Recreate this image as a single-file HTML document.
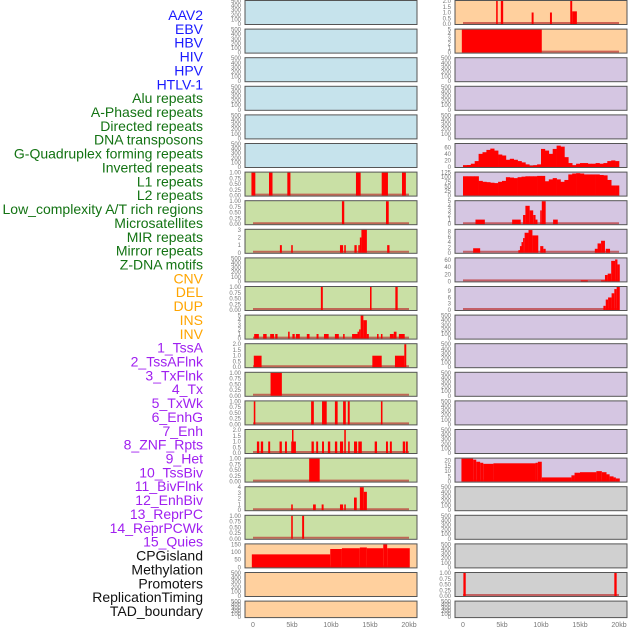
<!DOCTYPE html>
<html><head><meta charset="utf-8">
<style>
html,body{margin:0;padding:0;background:#fff;}
svg{display:block;font-family:"Liberation Sans",sans-serif;}
</style></head>
<body>
<svg id="chart" width="630" height="630" viewBox="0 0 630 630" xmlns="http://www.w3.org/2000/svg"></svg>
<script>
// ---- track labels ----
const trackLabels = ["AAV2","EBV","HBV","HIV","HPV","HTLV-1","Alu repeats","A-Phased repeats","Directed repeats","DNA transposons","G-Quadruplex forming repeats","Inverted repeats","L1 repeats","L2 repeats","Low_complexity A/T rich regions","Microsatellites","MIR repeats","Mirror repeats","Z-DNA motifs","CNV","DEL","DUP","INS","INV","1_TssA","2_TssAFlnk","3_TxFlnk","4_Tx","5_TxWk","6_EnhG","7_Enh","8_ZNF_Rpts","9_Het","10_TssBiv","11_BivFlnk","12_EnhBiv","13_ReprPC","14_ReprPCWk","15_Quies","CPGisland","Methylation","Promoters","ReplicationTiming","TAD_boundary"];
const labelColors = ["#1a1aff","#1a1aff","#1a1aff","#1a1aff","#1a1aff","#1a1aff","#137313","#137313","#137313","#137313","#137313","#137313","#137313","#137313","#137313","#137313","#137313","#137313","#137313","#ffa500","#ffa500","#ffa500","#ffa500","#ffa500","#a020f0","#a020f0","#a020f0","#a020f0","#a020f0","#a020f0","#a020f0","#a020f0","#a020f0","#a020f0","#a020f0","#a020f0","#a020f0","#a020f0","#a020f0","#111","#111","#111","#111","#111"];

// ---- x axis ----
const xTickValues = [0,5,10,15,20];
const xTickLabels = ["0","5kb","10kb","15kb","20kb"];

// ---- panel backgrounds per row (left col, right col) ----
const leftBg = ["blue","blue","blue","blue","blue","blue","green","green","green","green","green","green","green","green","green","green","green","green","green","orange","orange","orange"];
const rightBg = ["orange","orange","purple","purple","purple","purple","purple","purple","purple","purple","purple","purple","purple","purple","purple","purple","purple","gray","gray","gray","gray","gray"];

// ---- y axis maxima & ticks per row ----
const leftYMax = [500,500,500,500,500,500,1,1,3,500,1,5,2,1,1,2,1,4,1,150,500,500];
const rightYMax = [2,5,500,500,500,70,125,5,8.6,65,11,500,500,500,500,500,22,500,500,500,1,500];
const leftTicks = [null,null,null,null,null,null,"p1","p1",[0,1,2,3],null,"p1",[0,1,2,3,4,5],"p2","p1","p1","p2","p1",[0,1,2,3,4],"p1",[0,50,100,150],null,null];
const rightTicks = ["p2",[0,1,2,3,4,5],null,null,null,[0,20,40,60],[0,25,50,75,100,125],[0,1,2,3,4,5],[0,2,4,6,8],[0,20,40,60],[0,3,6,9],null,null,null,null,null,[0,5,10,15,20],null,null,null,"p1",null];

// ---- segment data [startKb, endKb, value] ----
const L6 = [[-0.2,0.3,1],[2.05,2.5,1],[4.4,4.8,1],[13.2,13.8,1],[16.5,17.3,1],[19.1,19.6,1]];
const L7 = [[11.4,11.7,1],[17.05,17.4,1]];
const L8 = [[3.45,3.7,1],[4.9,5.1,1],[11.15,11.55,1],[11.7,11.9,1],[13.0,13.3,1],[13.5,13.7,1],[13.7,13.9,2],[13.9,14.6,3],[17.2,17.5,1]];
const L10 = [[8.7,8.95,1],[15.0,15.2,1],[18.25,18.55,1]];
const L11 = [[0.15,0.75,1],[1.3,1.75,1],[2.2,2.7,1],[2.85,3.15,1],[4.5,4.7,1.5],[5.05,5.35,1],[5.5,6.0,1],[6.9,7.25,1],[8.15,8.4,1],[9.1,9.7,1],[10.5,11.0,1],[11.55,11.75,1],[12.7,13.4,1],[13.4,13.6,1.5],[13.6,13.8,2],[13.8,14.15,5],[14.15,14.6,4],[14.6,14.85,1],[15.9,16.1,1],[16.4,16.6,1],[17.55,18.05,1],[18.05,18.4,1.5],[18.7,19.45,1]];
const L12 = [[0.1,1.1,1],[15.3,16.5,1],[18.2,19.4,1],[19.4,19.65,2]];
const L13 = [[2.25,3.7,1]];
const L14 = [[0.1,0.3,1],[7.45,7.8,1],[8.85,9.45,1],[10.5,10.85,1],[11.55,11.9,1],[12.15,12.4,1],[16.4,16.6,1]];
const L15 = [[0.5,0.8,1],[1.0,1.3,1],[1.95,2.2,1],[3.4,3.7,1],[4.1,4.35,1],[4.9,5.0,1],[5.0,5.15,2],[5.15,5.5,1],[7.5,7.8,1],[8.1,8.35,1],[8.85,9.1,1],[9.6,9.9,1],[10.5,10.8,1],[11.15,11.55,1],[11.7,11.9,2],[12.2,12.4,1],[12.95,13.35,1],[13.5,13.95,1],[15.6,15.9,1],[17.05,17.3,1],[17.55,17.8,1],[19.2,19.5,1],[19.6,19.85,1]];
const L16 = [[7.2,8.55,1]];
const L17 = [[4.9,5.1,1],[7.7,8.05,1],[8.8,9.05,1],[11.15,11.55,1],[11.7,11.9,1],[12.95,13.3,2.2],[13.7,14.2,4],[14.2,14.6,3.2]];
const L18 = [[4.9,5.1,1],[6.3,6.55,1]];
const L19 = [[-0.15,9.9,85],[9.9,11.4,120],[11.4,13.7,125],[13.7,14.6,130],[14.6,16.7,125],[16.7,17.2,150],[17.2,20.1,125]];
const R0 = [[4.25,4.45,2],[4.85,5.15,2],[8.8,9.05,1],[11.15,11.4,1],[13.75,14.0,2],[14.0,14.6,1.1]];
const R1 = [[-0.15,10.1,5]];
const R7 = [[1.6,2.8,1],[6.3,7.4,1],[7.7,8.0,2],[8.0,8.55,4],[8.55,9.0,3],[9.0,9.3,2],[9.3,9.55,1],[9.9,10.1,3],[10.1,10.6,5],[11.55,12.15,1]];
const R8 = [[1.3,2.2,1.7],[7.1,7.3,1],[7.3,7.5,2.5],[7.5,7.7,4],[7.7,7.9,5.5],[7.9,8.4,7.5],[8.4,8.9,8.5],[8.9,9.65,6.5],[9.9,10.3,2.5],[10.3,10.6,1.5],[16.9,17.25,1.5],[17.25,17.7,3.5],[17.7,18.2,4.5],[18.3,18.85,1.5]];
const R9 = [[15.1,16.0,3],[17.7,18.2,3],[18.2,18.55,18],[18.55,19.0,22],[19.0,19.5,58],[19.5,19.8,62],[19.8,20.1,48]];
const R10 = [[18.0,18.3,2],[18.3,18.6,5],[18.6,19.05,6],[19.05,19.4,8],[19.4,19.7,10],[19.7,20.1,11]];
const R16 = [[-0.2,1.3,22],[1.3,1.7,21],[1.7,2.2,19],[2.2,2.6,18],[2.6,3.9,17],[3.9,9.3,17.5],[9.3,9.6,18],[9.6,10.1,19],[10.1,13.9,4],[13.9,14.3,6],[14.3,15.0,8.5],[15.0,17.1,9],[17.1,17.8,10],[17.8,18.4,9],[18.4,18.8,7],[18.8,19.3,5],[19.3,19.6,4],[19.6,20.1,3]];
const R20 = [[0.05,0.35,1],[19.4,19.7,1]];
// binned series (0.5 kb bins from 0 kb)
const R5bins = [5,6,10,18,40,45,52,56,50,38,35,22,25,22,18,14,8,3,5,8,55,50,40,55,65,62,30,12,5,10,12,12,10,10,12,10,12,18,20,18];
const R6bins = [105,105,105,105,80,75,73,70,68,75,80,100,98,95,100,103,105,105,105,107,107,78,88,95,88,75,85,115,120,122,120,115,115,115,115,112,110,85,55,55];
const binWidthKb = 0.5;

const leftData = {6:L6,7:L7,8:L8,10:L10,11:L11,12:L12,13:L13,14:L14,15:L15,16:L16,17:L17,18:L18,19:L19};
const rightData = {0:R0,1:R1,7:R7,8:R8,9:R9,10:R10,16:R16,20:R20,5:R5bins,6:R6bins};

const NS = "http://www.w3.org/2000/svg";
const svg = document.getElementById("chart");
function mk(tag, attrs, parent){
  const e = document.createElementNS(NS, tag);
  for (const k in attrs) e.setAttribute(k, attrs[k]);
  (parent||svg).appendChild(e);
  return e;
}
const bgColors = {blue:"#c6e3ec",green:"#c9e0a5",orange:"#ffd09e",purple:"#d5c6e2",gray:"#d0d0d0"};
const colX = [245, 455];
const panelW = 172;
function xScale(col, kb){ return colX[col] + 8 + kb * 7.8; }
function rowTop(i){ return 0.5 + i * 28.6; }
function rowH(i){ return i === 21 ? 16.5 : 24; }

// labels
trackLabels.forEach((t, i) => {
  const el = mk("text", {x:203, y:15 + i*13.86 + 5, "text-anchor":"end", "font-size":"14", fill:labelColors[i]});
  el.textContent = t;
  
  
});

function fmtTick(v, mode){
  if (mode === "p1") return v.toFixed(2);
  if (mode === "p2") return v.toFixed(1);
  return String(v);
}

function drawPanel(col, i){
  const bg = (col===0?leftBg:rightBg)[i];
  const ymax = (col===0?leftYMax:rightYMax)[i];
  let ticks = (col===0?leftTicks:rightTicks)[i];
  const data = (col===0?leftData:rightData)[i];
  const top = rowTop(i), h = rowH(i), x0 = colX[col];
  const g = mk("g", {});
  
  
  mk("rect", {x:x0, y:top, width:panelW, height:h, fill:bgColors[bg]}, g);
  const bottom = top + h - 0.5;
  const yS = v => bottom - (v/ymax) * (h - 1);
  let mode = null;
  if (ticks === "p1"){ mode="p1"; ticks=[0,0.25,0.5,0.75,1]; }
  else if (ticks === "p2"){ mode="p2"; ticks=[0,0.5,1,1.5,2]; }
  else if (ticks === null){ ticks=[0,100,200,300,400,500]; }
  ticks.forEach(v => {
    const t = mk("text", {x:x0-4, y:yS(v)+2, "text-anchor":"end", "font-size":"6", fill:"#777"}, g);
    t.textContent = fmtTick(v, mode);
    
    
  });
  if (data){
    mk("line", {x1:xScale(col,0), x2:xScale(col,20), y1:bottom-1, y2:bottom-1, stroke:"#b33", "stroke-opacity":"0.7", "stroke-width":"2"}, g);
    if (typeof data[0] === "number"){
      data.forEach((v, k) => {
        const xa = xScale(col, k*binWidthKb), xb = xScale(col, (k+1)*binWidthKb);
        const r = mk("rect", {x:xa, y:yS(v), width:xb-xa+0.3, height:bottom-yS(v), fill:"#ff0000"}, g);
        
        
      });
    } else {
      data.forEach(s => {
        const xa = xScale(col, s[0]), xb = xScale(col, s[1]);
        const r = mk("rect", {x:xa, y:yS(s[2]), width:Math.max(1.5, xb-xa), height:bottom-yS(s[2]), fill:"#ff0000"}, g);
        
        
      });
    }
  }
  mk("rect", {x:x0, y:top, width:panelW, height:h, fill:"none", stroke:"#555", "stroke-width":"1"}, g);
}
for (let i=0;i<22;i++){ drawPanel(0,i); drawPanel(1,i); }

// x axes
[0,1].forEach(col => {
  xTickValues.forEach((v, k) => {
    const t = mk("text", {x:xScale(col, v), y:627, "text-anchor":"middle", "font-size":"7", fill:"#777"});
    t.textContent = xTickLabels[k];
    
    
  });
});
</script>
</body></html>
